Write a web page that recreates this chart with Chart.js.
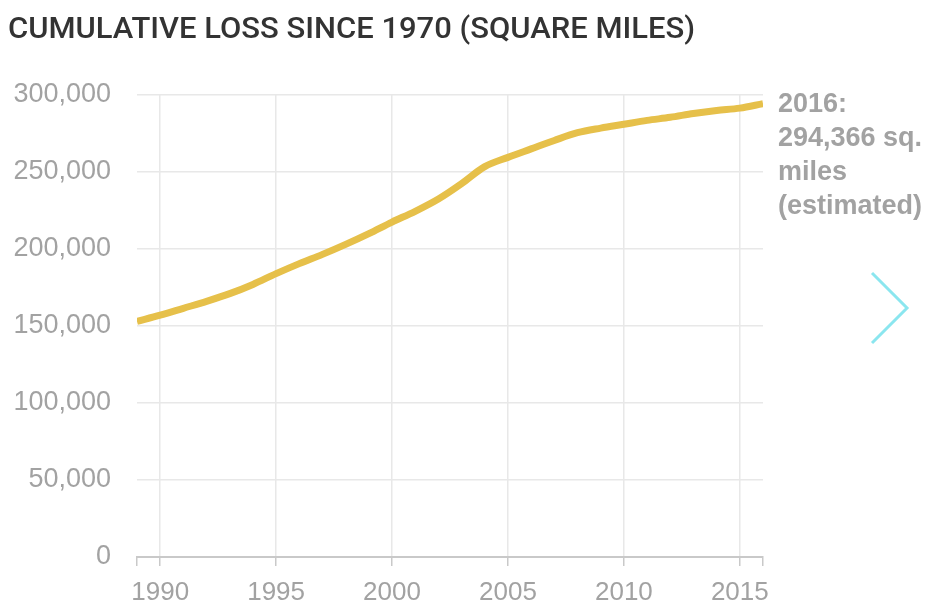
<!DOCTYPE html>
<html>
<head>
<meta charset="utf-8">
<script src="https://cdn.jsdelivr.net/npm/chart.js@4.4.1/dist/chart.umd.min.js"></script>
<style>
  html, body { margin: 0; background: #fff; }
  canvas { display: block; }
</style>
</head>
<body>
<canvas id="loss-chart" width="930" height="603"></canvas>
<script>
// Data
const years = [1989, 1990, 1991, 1992, 1993, 1994, 1995, 1996, 1997, 1998, 1999, 2000, 2001, 2002,
               2003, 2004, 2005, 2006, 2007, 2008, 2009, 2010, 2011, 2012, 2013, 2014, 2015, 2016];
const lossSqMiles = [153000, 157000, 161500, 166000, 171000, 177000, 184000, 190500, 196500, 203000,
                     210000, 217500, 224500, 232500, 242500, 253500, 259500, 265000, 270500, 275500,
                     278500, 281000, 283500, 285500, 288000, 290000, 291500, 294366];
const labelYears = [1990, 1995, 2000, 2005, 2010, 2015];
const axisTicks = [1989, 1990, 1995, 2000, 2005, 2010, 2015, 2016];
const yTicks = [0, 50000, 100000, 150000, 200000, 250000, 300000];

const titleText = 'CUMULATIVE LOSS SINCE 1970 (SQUARE MILES)';
const noteLines = ['2016:', '294,366 sq.', 'miles', '(estimated)'];

const FONT = "'Liberation Sans', Arial, Helvetica, sans-serif";
const GREY_TEXT = '#a2a2a2';
const GRID = '#e8e8e8';
const AXIS = '#c9c9c9';

// Title, end-of-line note and the carousel arrow
const extras = {
    id: 'extras',
    afterDraw(chart) {
        const ctx = chart.ctx;
        ctx.save();

        // condensed title, squeezed to the reference width
        ctx.font = "500 30px Roboto, 'DejaVu Sans', sans-serif";
        ctx.fillStyle = '#333333';
        ctx.textBaseline = 'alphabetic';
        const w = ctx.measureText(titleText).width;
        ctx.save();
        ctx.translate(8, 38);
        ctx.scale(687 / w, 1);
        ctx.fillText(titleText, 0, 0);
        ctx.restore();

        // note next to last point
        const meta = chart.getDatasetMeta(0);
        const last = meta.data[meta.data.length - 1];
        ctx.font = 'bold 27px ' + FONT;
        ctx.fillStyle = GREY_TEXT;
        ctx.textBaseline = 'middle';
        ctx.textAlign = 'left';
        noteLines.forEach((line, i) => {
            ctx.fillText(line, last.x + 15, last.y + 1 + i * 34);
        });

        // chevron
        ctx.strokeStyle = '#8be6ef';
        ctx.lineWidth = 3;
        ctx.beginPath();
        ctx.moveTo(chart.width - 58, 273);
        ctx.lineTo(chart.width - 23, 308);
        ctx.lineTo(chart.width - 58, 343);
        ctx.stroke();

        ctx.restore();
    }
};

new Chart(document.getElementById('loss-chart'), {
    type: 'line',
    data: {
        datasets: [{
            data: years.map((yr, i) => ({ x: yr, y: lossSqMiles[i] })),
            borderColor: '#e6c04a',
            borderWidth: 7,
            borderCapStyle: 'butt',
            pointRadius: 0,
            cubicInterpolationMode: 'monotone',
            fill: false
        }]
    },
    options: {
        responsive: false,
        animation: false,
        layout: { padding: { top: 95, right: 167, left: 0, bottom: 0 } },
        plugins: {
            legend: { display: false },
            tooltip: { enabled: false }
        },
        scales: {
            x: {
                type: 'linear',
                min: 1989,
                max: 2016,
                afterBuildTicks: scale => { scale.ticks = axisTicks.map(v => ({ value: v })); },
                afterFit: scale => { scale.height = 46; },
                ticks: {
                    autoSkip: false,
                    maxRotation: 0,
                    padding: 11,
                    color: GREY_TEXT,
                    font: { family: FONT, size: 26 },
                    callback: v => labelYears.includes(v) ? String(v) : ''
                },
                grid: {
                    color: c => (c.tick && labelYears.includes(c.tick.value)) ? GRID : 'rgba(0,0,0,0)',
                    lineWidth: 1.5,
                    tickColor: AXIS,
                    tickLength: 9
                },
                border: { color: AXIS, width: 2 }
            },
            y: {
                min: 0,
                max: 300000,
                afterBuildTicks: scale => { scale.ticks = yTicks.map(v => ({ value: v })); },
                afterFit: scale => { scale.width = 137; },
                ticks: {
                    padding: 26,
                    color: GREY_TEXT,
                    font: { family: FONT, size: 27 },
                    callback: v => v.toLocaleString('en-US')
                },
                grid: {
                    color: c => (c.tick && c.tick.value === 0) ? 'rgba(0,0,0,0)' : GRID,
                    lineWidth: 1.5,
                    drawTicks: false
                },
                border: { display: false }
            }
        }
    },
    plugins: [extras]
});
</script>
</body>
</html>
